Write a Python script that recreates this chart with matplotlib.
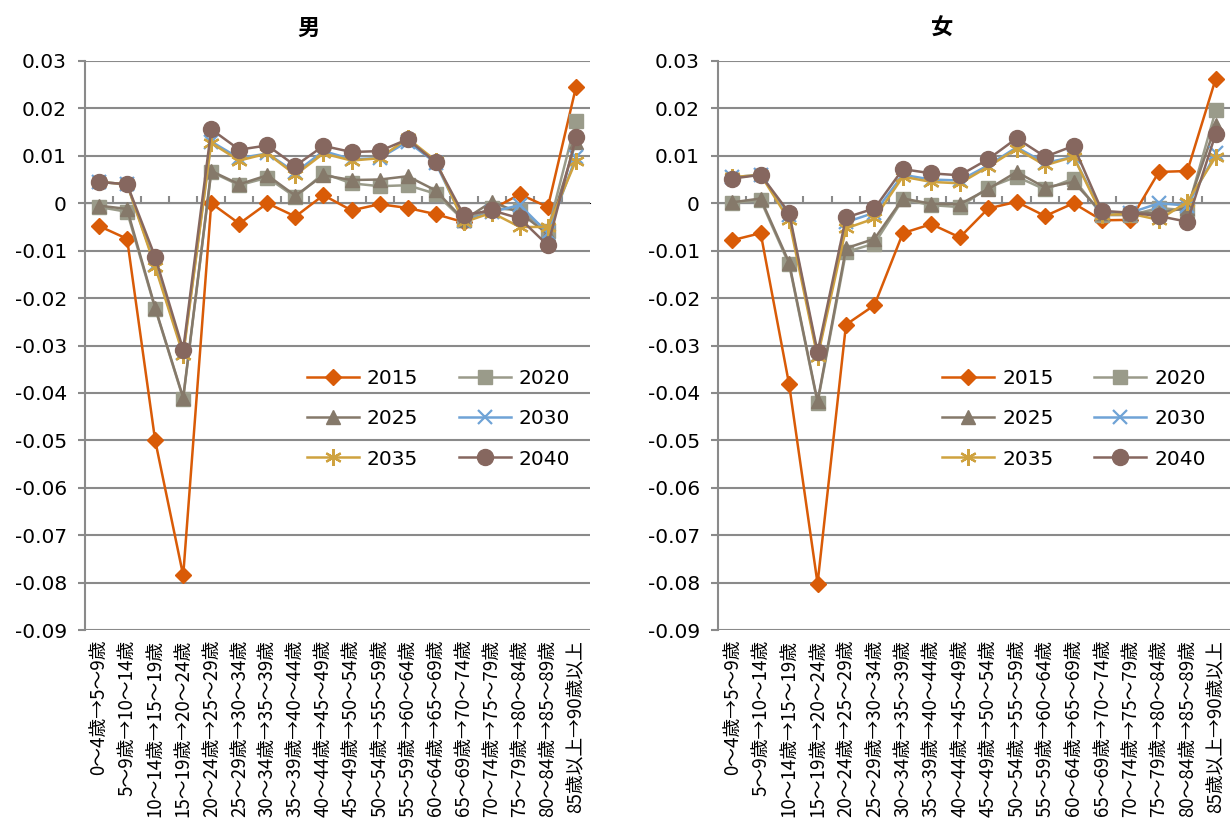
#!/usr/bin/env python3
"""Net migration rate by age cohort shift, male / female, 2015-2040."""
import matplotlib
matplotlib.use("Agg")
import matplotlib.pyplot as plt
from matplotlib.ticker import NullFormatter

JP = ["Noto Sans CJK JP", "DejaVu Sans"]
plt.rcParams.update({"font.family": JP, "axes.unicode_minus": False})

ages = ["0～4歳→5～9歳", "5～9歳→10～14歳", "10～14歳→15～19歳", "15～19歳→20～24歳",
        "20～24歳→25～29歳", "25～29歳→30～34歳", "30～34歳→35～39歳", "35～39歳→40～44歳",
        "40～44歳→45～49歳", "45～49歳→50～54歳", "50～54歳→55～59歳", "55～59歳→60～64歳",
        "60～64歳→65～69歳", "65～69歳→70～74歳", "70～74歳→75～79歳", "75～79歳→80～84歳",
        "80～84歳→85～89歳", "85歳以上→90歳以上"]
years = ["2015", "2020", "2025", "2030", "2035", "2040"]

m2015 = [-0.0048, -0.0075, -0.0500, -0.0785, 0.0000, -0.0043, 0.0000, -0.0028, 0.0017,
         -0.0015, -0.0002, -0.0010, -0.0023, -0.0040, -0.0013, 0.0019, -0.0008, 0.0245]
m2020 = [-0.0008, -0.0018, -0.0222, -0.0412, 0.0066, 0.0038, 0.0054, 0.0013, 0.0063,
         0.0042, 0.0036, 0.0038, 0.0020, -0.0036, -0.0010, -0.0015, -0.0058, 0.0174]
m2025 = [-0.0005, -0.0012, -0.0220, -0.0410, 0.0068, 0.0040, 0.0059, 0.0016, 0.0059,
         0.0049, 0.0050, 0.0057, 0.0027, -0.0035, 0.0003, -0.0020, -0.0065, 0.0130]
m2030 = [0.0045, 0.0040, -0.0130, -0.0315, 0.0130, 0.0095, 0.0105, 0.0065, 0.0110,
         0.0093, 0.0095, 0.0130, 0.0085, -0.0038, -0.0018, -0.0004, -0.0063, 0.0098]
m2035 = [0.0045, 0.0040, -0.0134, -0.0320, 0.0127, 0.0090, 0.0105, 0.0060, 0.0105,
         0.0090, 0.0095, 0.0137, 0.0090, -0.0040, -0.0020, -0.0050, -0.0050, 0.0090]
m2040 = [0.0045, 0.0040, -0.0113, -0.0309, 0.0156, 0.0113, 0.0122, 0.0079, 0.0121,
         0.0108, 0.0110, 0.0135, 0.0086, -0.0025, -0.0015, -0.0032, -0.0089, 0.0139]

f2015 = [-0.0078, -0.0063, -0.0382, -0.0802, -0.0256, -0.0215, -0.0063, -0.0044, -0.0072,
         -0.0011, 0.0003, -0.0027, 0.0000, -0.0036, -0.0035, 0.0066, 0.0068, 0.0263]
f2020 = [0.0001, 0.0006, -0.0129, -0.0421, -0.0103, -0.0085, 0.0008, -0.0004, -0.0008,
         0.0033, 0.0056, 0.0029, 0.0052, -0.0025, -0.0025, -0.0010, -0.0015, 0.0196]
f2025 = [0.0002, 0.0010, -0.0125, -0.0418, -0.0095, -0.0075, 0.0010, -0.0001, -0.0002,
         0.0030, 0.0066, 0.0033, 0.0045, -0.0020, -0.0020, -0.0020, -0.0010, 0.0165]
f2030 = [0.0055, 0.0060, -0.0025, -0.0320, -0.0040, -0.0020, 0.0060, 0.0050, 0.0048,
         0.0080, 0.0118, 0.0085, 0.0098, -0.0020, -0.0020, 0.0000, -0.0005, 0.0105]
f2035 = [0.0055, 0.0060, -0.0036, -0.0325, -0.0053, -0.0032, 0.0056, 0.0045, 0.0042,
         0.0077, 0.0115, 0.0080, 0.0098, -0.0025, -0.0022, -0.0035, 0.0003, 0.0098]
f2040 = [0.0052, 0.0060, -0.0020, -0.0314, -0.0030, -0.0011, 0.0072, 0.0063, 0.0059,
         0.0093, 0.0137, 0.0098, 0.0121, -0.0016, -0.0020, -0.0027, -0.0039, 0.0147]

male = [m2015, m2020, m2025, m2030, m2035, m2040]
female = [f2015, f2020, f2025, f2030, f2035, f2040]

# colour, marker, marker size per year
STYLE = [("#d95b07", "D", 8.5), ("#9a9b8a", "s", 9.5), ("#85796a", "^", 10.5),
         ("#6fa3d6", "x", 9.5), ("#cfa23f", (6, 2, 0), 12), ("#86675f", "o", 11.5)]
GRID = "#8a8a8a"
YTICKS = [0.03, 0.02, 0.01, 0, -0.01, -0.02, -0.03, -0.04, -0.05, -0.06, -0.07, -0.08, -0.09]


def draw(ax, series, legend_x):
    x = list(range(len(ages)))
    handles = []
    for vals, yr, (col, mk, ms) in zip(series, years, STYLE):
        h, = ax.plot(x, vals, color=col, lw=1.8, marker=mk, ms=ms, mec=col, mfc=col,
                     mew=1.6 if mk in ("x", (6, 2, 0)) else 1, label=yr)
        handles.append(h)
    ax.set_xlim(-0.5, len(ages) - 0.5)
    ax.set_ylim(-0.09, 0.03)
    ax.set_yticks(YTICKS)
    ax.set_yticklabels(["0" if v == 0 else f"{v:g}" for v in YTICKS],
                       family="DejaVu Sans", fontsize=14.5)
    ax.grid(axis="y", color=GRID, lw=1.5)
    ax.set_axisbelow(True)
    for s in ("top", "right", "bottom"):
        ax.spines[s].set_visible(False)
    ax.spines["left"].set_color(GRID)
    ax.spines["left"].set_linewidth(1.5)
    ax.tick_params(axis="y", length=5, width=1.5, color=GRID, pad=8)
    ax.set_xticks(x)
    ax.set_xticklabels(ages, rotation=90, fontsize=13.5, family=JP)
    ax.tick_params(axis="x", length=0, pad=7)

    # category axis crossing at zero, tick marks between categories
    zero = ax.secondary_xaxis(0.09 / 0.12)
    zero.spines["bottom"].set_color(GRID)
    zero.spines["bottom"].set_linewidth(1.5)
    zero.set_xticks([i + 0.5 for i in x[:-1]])
    zero.xaxis.set_major_formatter(NullFormatter())
    zero.tick_params(axis="x", length=5, width=1.5, color=GRID)

    order = [0, 2, 4, 1, 3, 5]
    ax.legend([handles[i] for i in order], [years[i] for i in order], ncol=2,
              loc="center", bbox_to_anchor=(legend_x, 0.371), frameon=False,
              prop={"family": "DejaVu Sans", "size": 14.5}, handlelength=2.6,
              handletextpad=0.4, columnspacing=2.0, labelspacing=1.05)


fig = plt.figure(figsize=(12.3, 8.18), dpi=100)
axm = fig.add_axes([85 / 1230, 1 - 630 / 818, 505 / 1230, 569 / 818])
axf = fig.add_axes([718 / 1230, 1 - 630 / 818, 512 / 1230, 569 / 818])
draw(axm, male, 0.70)
draw(axf, female, 0.695)
fig.text(308 / 1230, 1 - 28 / 818, "男", ha="center", va="center", fontsize=16, fontweight="bold")
fig.text(942 / 1230, 1 - 28 / 818, "女", ha="center", va="center", fontsize=16, fontweight="bold")
fig.savefig("out.png", dpi=100)
